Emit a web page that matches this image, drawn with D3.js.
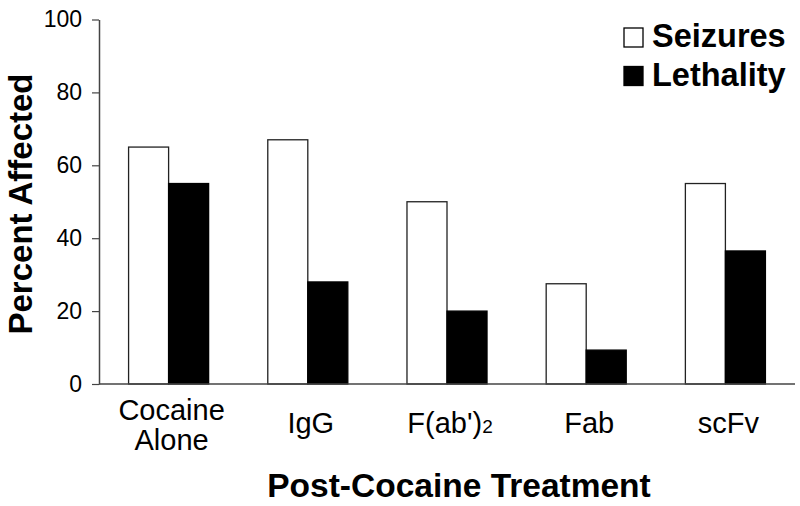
<!DOCTYPE html>
<html>
<head>
<meta charset="utf-8">
<script src="https://cdn.jsdelivr.net/npm/d3@7"></script>
<style>
  body { margin: 0; background: #fff; }
  text { font-family: "Liberation Sans", Arial, Helvetica, sans-serif; }
</style>
</head>
<body>
<script>
var width = 800,
    height = 506;

// data
var categories = ["Cocaine Alone", "IgG", "F(ab')2", "Fab", "scFv"];
var seriesNames = ["Seizures", "Lethality"];
var seizures = [65, 67, 50, 27.5, 55];
var lethality = [55, 28, 20, 9.3, 36.5];
var yTicks = [0, 20, 40, 60, 80, 100];

var margin = { top: 19.5, right: 5, bottom: 122, left: 99 };

var svg = d3.select("body").append("svg")
    .attr("width", width)
    .attr("height", height)
    .style("background", "#fff");

var x0 = d3.scaleBand()
    .domain(categories)
    .range([margin.left, width - margin.right])
    .paddingInner(0.425)
    .paddingOuter(0.2125);

var x1 = d3.scaleBand()
    .domain(seriesNames)
    .range([0, x0.bandwidth()]);

var y = d3.scaleLinear()
    .domain([0, 100])
    .range([height - margin.bottom, margin.top]);

var color = d3.scaleOrdinal()
    .domain(seriesNames)
    .range(["#fff", "#000"]);

var rows = categories.map(function(c, i) {
    return { cat: c, values: [
        { key: "Seizures", value: seizures[i] },
        { key: "Lethality", value: lethality[i] }
    ] };
});

// bars
var groups = svg.selectAll("g.group")
    .data(rows)
    .enter().append("g")
    .attr("class", "group")
    .attr("transform", function(d) { return "translate(" + x0(d.cat) + ",0)"; });

groups.selectAll("rect")
    .data(function(d) { return d.values; })
    .enter().append("rect")
    .attr("x", function(d) { return x1(d.key); })
    .attr("y", function(d) { return y(d.value); })
    .attr("width", x1.bandwidth())
    .attr("height", function(d) { return y(0) - y(d.value); })
    .attr("fill", function(d) { return color(d.key); })
    .attr("stroke", function(d) { return d.key == "Seizures" ? "#222" : "#000"; })
    .attr("stroke-width", 1.3);

// y axis
var yAxis = svg.append("g")
    .attr("transform", "translate(" + margin.left + ",0)")
    .call(d3.axisLeft(y).tickValues(yTicks).tickSize(7).tickPadding(10).tickSizeOuter(0));

yAxis.select(".domain").attr("stroke", "#444").attr("stroke-width", 1.5);
yAxis.selectAll(".tick line").attr("stroke", "#444").attr("stroke-width", 1.2);
yAxis.selectAll(".tick text")
    .attr("fill", "#000")
    .style("font-size", "23px")
    .style("font-family", "'Liberation Sans', Arial, sans-serif");

// x axis line
svg.append("line")
    .attr("x1", margin.left)
    .attr("x2", width - margin.right)
    .attr("y1", y(0))
    .attr("y2", y(0))
    .attr("stroke", "#444")
    .attr("stroke-width", 1.5);

// category labels
var labels = svg.selectAll("text.cat")
    .data(categories)
    .enter().append("text")
    .attr("class", "cat")
    .attr("text-anchor", "middle")
    .attr("x", function(d) { return x0(d) + x0.bandwidth() / 2 + 3; })
    .attr("y", function(d) { return d == "Cocaine Alone" ? 420 : 433; })
    .style("font-size", "29px");

labels.each(function(d) {
    var t = d3.select(this);
    if (d == "Cocaine Alone") {
        t.append("tspan").attr("x", t.attr("x")).text("Cocaine");
        t.append("tspan").attr("x", t.attr("x")).attr("dy", 30).text("Alone");
    } else if (d == "F(ab')2") {
        t.append("tspan").text("F(ab')");
        t.append("tspan").style("font-size", "19px").text("2");
    } else {
        t.text(d);
    }
});

// axis titles
svg.append("text")
    .attr("text-anchor", "middle")
    .attr("x", 459)
    .attr("y", 497)
    .style("font-size", "33.5px")
    .style("font-weight", "bold")
    .text("Post-Cocaine Treatment");

svg.append("text")
    .attr("text-anchor", "middle")
    .attr("transform", "translate(32," + 204 + ")rotate(-90)")
    .style("font-size", "33px")
    .style("font-weight", "bold")
    .text("Percent Affected");

// legend
var legend = svg.selectAll("g.legend")
    .data(seriesNames)
    .enter().append("g")
    .attr("class", "legend")
    .attr("transform", function(d, i) { return "translate(624," + (28 + i * 38.5) + ")"; });

legend.append("rect")
    .attr("width", 19)
    .attr("height", 19)
    .attr("fill", function(d) { return color(d); })
    .attr("stroke", "#000")
    .attr("stroke-width", 1.3);

legend.append("text")
    .attr("x", 28)
    .attr("y", 19)
    .style("font-size", "32.5px")
    .style("font-weight", "bold")
    .text(function(d) { return d; });
</script>
</body>
</html>
